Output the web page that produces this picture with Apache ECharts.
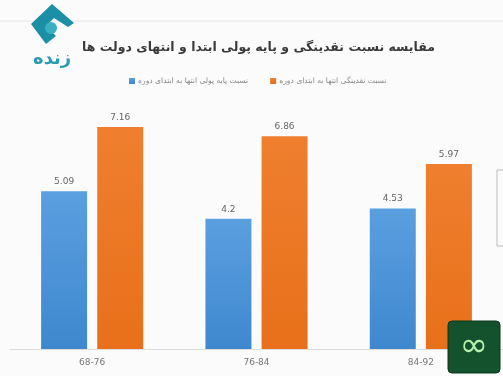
<!DOCTYPE html>
<html><head><meta charset="utf-8">
<script src="https://cdn.jsdelivr.net/npm/echarts@6/dist/echarts.min.js"></script>
<style>html,body{margin:0;padding:0;background:#fbfbfb}#c{width:503px;height:376px}</style>
</head><body><div id="c"></div>
<script>
const categories = ['68-76', '76-84', '84-92'];
const seriesNames = ['نسبت پایه پولی انتها به ابتدای دوره', 'نسبت نقدینگی انتها به ابتدای دوره'];
const baseMoney = [5.09, 4.2, 4.53];
const liquidity = [7.16, 6.86, 5.97];
const titleText = 'مقایسه نسبت نقدینگی و پایه پولی ابتدا و انتهای دولت ها';

const chart = echarts.init(document.getElementById('c'));
const lbl = {show: true, position: 'top', distance: 5, color: '#666', fontSize: 9, fontFamily: 'DejaVu Sans'};
chart.setOption({
  backgroundColor: '#fbfbfb',
  animation: false,
  title: {text: titleText, left: 77, top: 36, textStyle: {fontFamily: 'DejaVu Sans', fontSize: 12.5, fontWeight: 'bold', color: '#3a3a3a'}},
  legend: {top: 72, left: 124, itemGap: 22, itemWidth: 6, itemHeight: 6, icon: 'rect',
    textStyle: {fontFamily: 'DejaVu Sans', fontSize: 7.6, color: '#888', padding: [0,0,0,-2]}, data: seriesNames},
  grid: {left: 10, right: -3, top: 101, bottom: 27},
  xAxis: {type: 'category', data: categories, axisTick: {show: false},
    axisLine: {lineStyle: {color: '#ddd'}},
    axisLabel: {color: '#777', fontSize: 9, margin: 9, fontFamily: 'DejaVu Sans'}},
  yAxis: {type: 'value', min: 0, max: 8, show: false, splitLine: {show: false}},
  series: [
    {name: seriesNames[0], type: 'bar', data: baseMoney, barWidth: 46, barGap: '22%',
      itemStyle: {color: new echarts.graphic.LinearGradient(0,0,0,1,[{offset:0,color:'#5a9fdf'},{offset:1,color:'#3f88cf'}])}, label: lbl},
    {name: seriesNames[1], type: 'bar', data: liquidity, barWidth: 46,
      itemStyle: {color: new echarts.graphic.LinearGradient(0,0,0,1,[{offset:0,color:'#ef7f2e'},{offset:1,color:'#e8701a'}])}, label: lbl}
  ],
  graphic: [
    {type: 'line', shape: {x1: 0, y1: 21, x2: 503, y2: 21}, style: {stroke: '#e6e6e6', lineWidth: 1}, z: 0},
    {type: 'polygon', shape: {points: [[52,4],[31,24],[46,44],[56,36],[46,26],[54,18],[68,27],[74,23]]}, style: {fill: '#1a8fa6'}},
    {type: 'circle', shape: {cx: 51, cy: 28, r: 6}, style: {fill: '#3bb0c4'}},
    {type: 'text', left: 33, top: 50, style: {text: 'زنده', fontFamily: 'DejaVu Sans', fontSize: 18, fontWeight: 'bold', fill: '#2a9bb3'}},
    {type: 'rect', shape: {x: 497, y: 170, width: 8, height: 76}, style: {fill: 'none', stroke: '#bbb', lineWidth: 1}},
    {type: 'rect', shape: {x: 448, y: 321, width: 52, height: 52, r: 4}, style: {fill: '#14512d', stroke: '#0b3a1e', lineWidth: 1}, z: 100},
    {type: 'text', x: 474, y: 347, z: 101, style: {text: '∞', fontSize: 34, fill: '#b8f0b0', fontFamily: 'DejaVu Sans', align: 'center', verticalAlign: 'middle'}}
  ]
});
</script></body></html>
